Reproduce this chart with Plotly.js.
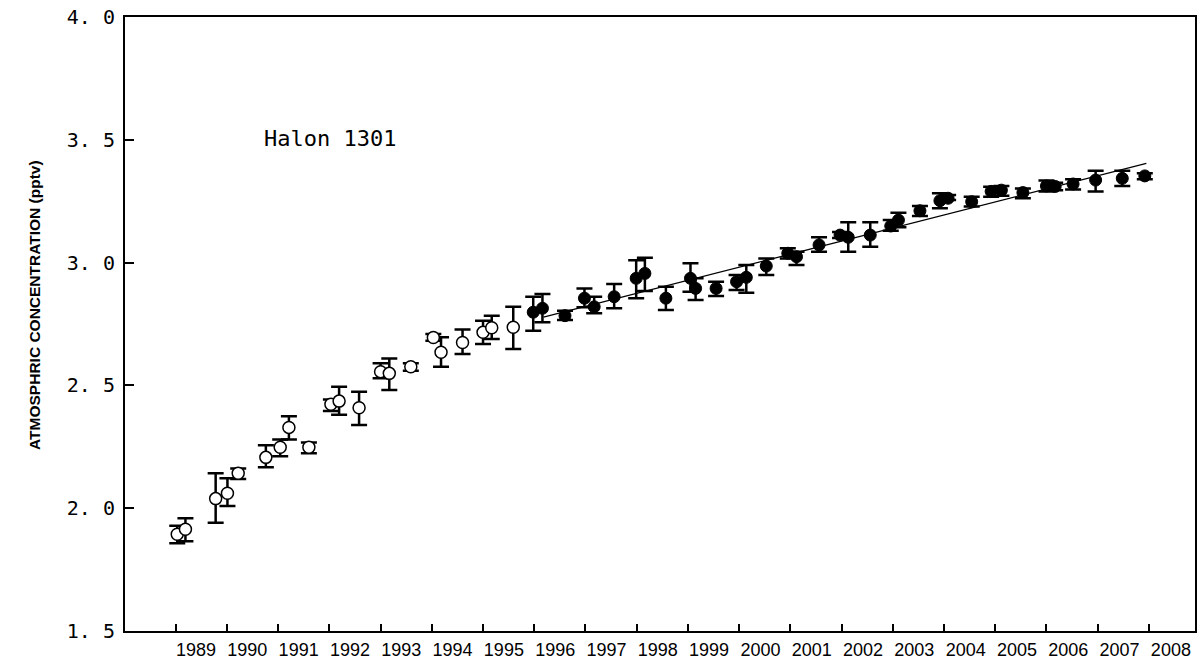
<!DOCTYPE html>
<html>
<head>
<meta charset="utf-8">
<script src="https://cdn.plot.ly/plotly-3.0.1.min.js"></script>
<style>
  html, body { margin: 0; padding: 0; background: #fff; }
  #chart { width: 1203px; height: 669px; }
</style>
</head>
<body>
<div id="chart"></div>
<script>
// early flask samples (open circles)
const openX  = [1989.03, 1989.19, 1989.78, 1990.01, 1990.22, 1990.76, 1991.04, 1991.21, 1991.60, 1992.03, 1992.19, 1992.58, 1993.00, 1993.17, 1993.59, 1994.03, 1994.18, 1994.60, 1995.00, 1995.17, 1995.59];
const openY  = [1.894, 1.914, 2.039, 2.061, 2.142, 2.207, 2.248, 2.329, 2.248, 2.423, 2.436, 2.409, 2.556, 2.549, 2.576, 2.695, 2.635, 2.675, 2.716, 2.735, 2.737];
const openHi = [1.929, 1.959, 2.142, 2.122, 2.162, 2.256, 2.280, 2.374, 2.268, 2.443, 2.495, 2.474, 2.590, 2.610, 2.590, 2.709, 2.696, 2.728, 2.763, 2.784, 2.820];
const openLo = [1.857, 1.865, 1.941, 2.009, 2.119, 2.167, 2.212, 2.280, 2.224, 2.396, 2.380, 2.339, 2.529, 2.481, 2.560, 2.682, 2.576, 2.628, 2.669, 2.689, 2.648];

// later samples (filled circles)
const fillX  = [1995.98, 1996.16, 1996.60, 1996.98, 1997.17, 1997.56, 1997.99, 1998.16, 1998.57, 1999.05, 1999.15, 1999.55, 1999.95, 2000.14, 2000.53, 2000.95, 2001.12, 2001.56, 2001.97, 2002.13, 2002.56, 2002.96, 2003.11, 2003.53, 2003.92, 2004.08, 2004.54, 2004.92, 2005.12, 2005.54, 2006.00, 2006.17, 2006.52, 2006.96, 2007.48, 2007.92];
const fillY  = [2.798, 2.814, 2.784, 2.855, 2.820, 2.861, 2.936, 2.956, 2.855, 2.936, 2.895, 2.895, 2.922, 2.940, 2.986, 3.038, 3.024, 3.072, 3.112, 3.103, 3.112, 3.149, 3.173, 3.211, 3.252, 3.262, 3.248, 3.290, 3.295, 3.285, 3.312, 3.310, 3.320, 3.336, 3.343, 3.353];
const fillHi = [2.861, 2.872, 2.804, 2.895, 2.861, 2.913, 3.010, 3.020, 2.902, 2.997, 2.936, 2.922, 2.950, 2.990, 3.017, 3.058, 3.044, 3.103, 3.125, 3.164, 3.164, 3.173, 3.203, 3.230, 3.282, 3.275, 3.268, 3.309, 3.312, 3.302, 3.334, 3.325, 3.339, 3.374, 3.374, 3.364];
const fillLo = [2.723, 2.757, 2.766, 2.818, 2.794, 2.814, 2.855, 2.884, 2.807, 2.881, 2.848, 2.864, 2.888, 2.877, 2.950, 3.017, 2.990, 3.044, 3.100, 3.044, 3.065, 3.130, 3.144, 3.190, 3.221, 3.255, 3.228, 3.268, 3.272, 3.262, 3.289, 3.295, 3.298, 3.289, 3.312, 3.339];

// linear trend 1996-2008
const trendX = [1996.18, 2007.95];
const trendY = [2.778, 3.404];

const years = [1989, 1990, 1991, 1992, 1993, 1994, 1995, 1996, 1997, 1998, 1999, 2000, 2001, 2002, 2003, 2004, 2005, 2006, 2007, 2008];
const yTicks = [1.5, 2.0, 2.5, 3.0, 3.5, 4.0];
const yTickText = ['1. 5', '2. 0', '2. 5', '3. 0', '3. 5', '4. 0'];

const errBar = (y, hi, lo) => ({
  type: 'data', symmetric: false,
  array: hi.map((v, i) => v - y[i]),
  arrayminus: lo.map((v, i) => y[i] - v),
  color: '#000', thickness: 2.5, width: 8,
});

Plotly.newPlot('chart', [
  {
    x: trendX, y: trendY,
    type: 'scatter', mode: 'lines',
    line: { color: '#000', width: 1.3 },
    hoverinfo: 'skip',
  },
  {
    x: openX, y: openY,
    type: 'scatter', mode: 'markers',
    marker: { symbol: 'circle', size: 12, color: '#fff', line: { color: '#000', width: 1.5 } },
    error_y: errBar(openY, openHi, openLo),
  },
  {
    x: fillX, y: fillY,
    type: 'scatter', mode: 'markers',
    marker: { symbol: 'circle', size: 12, color: '#000', line: { color: '#000', width: 1 } },
    error_y: errBar(fillY, fillHi, fillLo),
  },
  {
    // empty trace so the label axis is drawn
    x: [years[0]], y: [null],
    xaxis: 'x2', yaxis: 'y',
    type: 'scatter', mode: 'markers',
    hoverinfo: 'skip',
  },
], {
  width: 1203, height: 669,
  margin: { l: 125, r: 8, t: 17, b: 38 },
  paper_bgcolor: '#fff', plot_bgcolor: '#fff',
  showlegend: false,
  xaxis: {
    range: [1988.01, 2008.9],
    tickvals: years, showticklabels: false,
    ticks: 'inside', ticklen: 7, tickwidth: 2, tickcolor: '#000',
    showline: true, linecolor: '#000', linewidth: 2, mirror: true,
    showgrid: false, zeroline: false,
  },
  xaxis2: {
    overlaying: 'x', anchor: 'y', side: 'bottom',
    range: [1987.616, 2008.47],
    tickvals: years, ticktext: years.map(String),
    ticks: '', showline: false, showgrid: false, zeroline: false,
    ticklabelstandoff: 6,
    tickfont: { family: 'Liberation Sans, sans-serif', size: 18, color: '#000' },
  },
  yaxis: {
    range: [1.5, 4.0],
    tickvals: yTicks, ticktext: yTickText,
    ticks: 'inside', ticklen: 9, tickwidth: 2, tickcolor: '#000',
    showline: true, linecolor: '#000', linewidth: 2, mirror: true,
    showgrid: false, zeroline: false,
    ticklabelstandoff: 4,
    tickfont: { family: 'DejaVu Sans Mono, monospace', size: 20, color: '#000' },
  },
  annotations: [
    {
      text: 'Halon 1301',
      x: 1990.68, y: 3.504, xref: 'x', yref: 'y',
      xanchor: 'left', yanchor: 'middle', showarrow: false,
      font: { family: 'DejaVu Sans Mono, monospace', size: 22, color: '#000' },
    },
    {
      text: '<b>ATMOSPHRIC CONCENTRATION (pptv)</b>',
      x: 0, y: 0.531, xref: 'paper', yref: 'paper',
      xshift: -90, textangle: -90,
      xanchor: 'center', yanchor: 'middle', showarrow: false,
      font: { family: 'Liberation Sans, sans-serif', size: 15.5, color: '#000' },
    },
  ],
}, { displayModeBar: false, staticPlot: true });
</script>
</body>
</html>
